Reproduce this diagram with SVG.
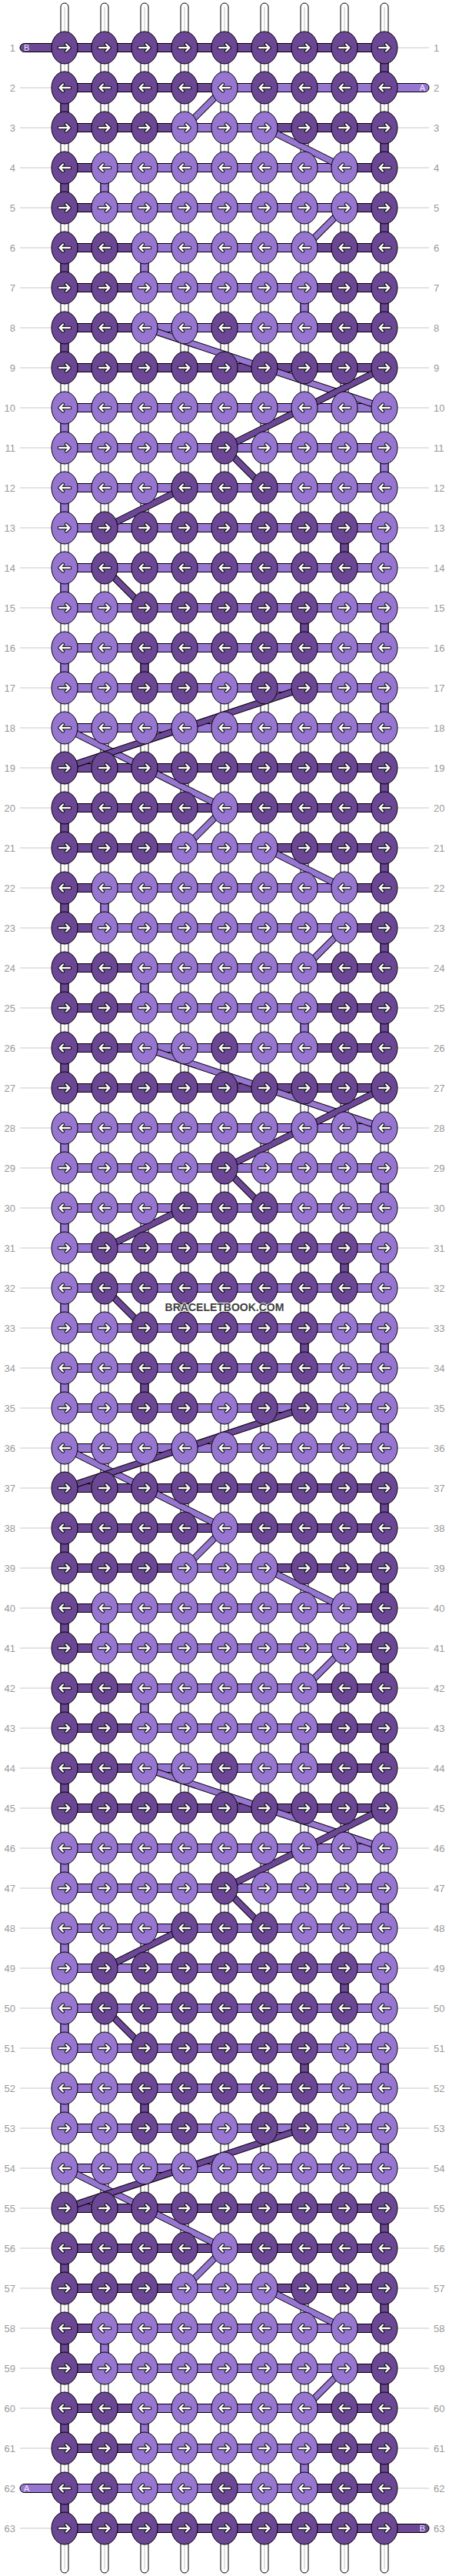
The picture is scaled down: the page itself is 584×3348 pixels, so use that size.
<svg xmlns="http://www.w3.org/2000/svg" width="584" height="3348" viewBox="0 0 584 3348">
<style>
.d{fill:#6b4795;stroke:#000;stroke-width:1}
.l{fill:#9776d1;stroke:#000;stroke-width:1}
.ao{fill:none;stroke:#000;stroke-width:4.4;stroke-linecap:round;stroke-linejoin:round}
.ai{fill:none;stroke:#fff;stroke-width:2.4;stroke-linecap:round;stroke-linejoin:round}
.s{fill:#fff;stroke:#000;stroke-width:1}
.sc{fill:none;stroke:#c4c4c4;stroke-width:1}
.o{fill:none;stroke:#000;stroke-width:9}
.cd{fill:none;stroke:#6b4795;stroke-width:7}
.cl{fill:none;stroke:#9776d1;stroke-width:7}
.ln{fill:none;stroke:#c8c8c8;stroke-width:1}
text{font-family:"Liberation Sans",Arial,sans-serif}
.nl{font-size:13px;fill:#999;text-anchor:end}
.nr{font-size:13px;fill:#999}
.pt{font-size:11px;fill:#f2ecff}
.wm{font-size:14px;font-weight:bold;fill:#404040;text-anchor:middle;stroke:#fff;stroke-width:1.5;paint-order:stroke}
</style>
<defs>
<g id="ar"><path class="ao" d="M-7,0H6.5M2,-4.5L6.5,0L2,4.5"/><path class="ai" d="M-7,0H6.5M2,-4.5L6.5,0L2,4.5"/></g>
<use id="al" href="#ar" transform="scale(-1,1)"/>
<g id="Dr"><ellipse rx="17" ry="21" class="d"/><use href="#ar"/></g>
<g id="Dl"><ellipse rx="17" ry="21" class="d"/><use href="#al"/></g>
<g id="Lr"><ellipse rx="17" ry="21" class="l"/><use href="#ar"/></g>
<g id="Ll"><ellipse rx="17" ry="21" class="l"/><use href="#al"/></g>
<rect id="bD" class="d" y="-5.5" width="52" height="11"/>
<rect id="bL" class="l" y="-5.5" width="52" height="11"/>
<rect id="vD" class="d" x="-5" width="10" height="52"/>
<rect id="vL" class="l" x="-5" width="10" height="52"/>
<path id="LB" class="ln" d="M26,0H67M517,0H558"/>
<path id="LR" class="ln" d="M517,0H558"/>
<path id="LF" class="ln" d="M26,0H67"/>
<g id="RD"><use href="#bD" x="84"/><use href="#bD" x="136"/><use href="#bD" x="188"/><use href="#bD" x="240"/><use href="#bD" x="292"/><use href="#bD" x="344"/><use href="#bD" x="396"/><use href="#bD" x="448"/></g>
<g id="RL"><use href="#bL" x="84"/><use href="#bL" x="136"/><use href="#bL" x="188"/><use href="#bL" x="240"/><use href="#bL" x="292"/><use href="#bL" x="344"/><use href="#bL" x="396"/><use href="#bL" x="448"/></g>
<g id="R0"><use href="#bD" x="84"/><use href="#bD" x="136"/><use href="#bL" x="188"/><use href="#bL" x="240"/><use href="#bL" x="292"/><use href="#bL" x="344"/><use href="#bD" x="396"/><use href="#bD" x="448"/></g>
<g id="R14"><use href="#bD" x="84"/><use href="#bD" x="136"/><use href="#bD" x="188"/><use href="#bL" x="240"/><use href="#bL" x="292"/><use href="#bD" x="344"/><use href="#bD" x="396"/><use href="#bD" x="448"/></g>
<g id="R15"><use href="#bD" x="84"/><use href="#bL" x="136"/><use href="#bL" x="188"/><use href="#bL" x="240"/><use href="#bL" x="292"/><use href="#bL" x="344"/><use href="#bL" x="396"/><use href="#bD" x="448"/></g>
<g id="B1">
<use href="#R0"/><use href="#R0" y="52"/><use href="#RD" y="104"/><use href="#RL" y="156"/><use href="#RL" y="208"/><use href="#RL" y="260"/><use href="#RL" y="312"/><use href="#RL" y="364"/><use href="#RL" y="416"/><use href="#RL" y="468"/><use href="#RL" y="520"/><use href="#RL" y="572"/>
<use href="#vL" x="396"/><use href="#vD" x="500"/>
<use href="#vD" x="84" y="52"/>
<use href="#vL" x="84" y="156"/>
<use href="#vL" x="500" y="208"/>
<use href="#vL" x="84" y="260"/>
<use href="#vD" x="448" y="312"/><use href="#vL" x="500" y="312"/>
<use href="#vL" x="84" y="364"/>
<use href="#vD" x="396" y="416"/><use href="#vL" x="500" y="416"/>
<use href="#vL" x="84" y="468"/><use href="#vD" x="188" y="468"/>
<use href="#vL" x="500" y="520"/>
</g>
<g id="B2">
<use href="#RD"/><use href="#RD" y="52"/><use href="#R14" y="104"/><use href="#R15" y="156"/><use href="#R15" y="208"/><use href="#R0" y="260"/>
<use href="#vD" x="500"/>
<use href="#vD" x="84" y="52"/>
<use href="#vD" x="500" y="104"/>
<use href="#vD" x="84" y="156"/><use href="#vL" x="136" y="156"/>
<use href="#vD" x="500" y="208"/>
<use href="#vD" x="84" y="260"/><use href="#vL" x="188" y="260"/>
</g>
<g id="G1">
<path class="o" d="M188,52L500,156"/><path class="cl" d="M188,52L500,156"/>
<path class="o" d="M292,208L500,104"/><path class="cd" d="M292,208L500,104"/>
<path class="o" d="M292,208L344,260"/><path class="cd" d="M292,208L344,260"/>
<path class="o" d="M240,260L136,312"/><path class="cd" d="M240,260L136,312"/>
<path class="o" d="M136,364L188,416"/><path class="cd" d="M136,364L188,416"/>
<path class="o" d="M84,572L292,676"/><path class="cl" d="M84,572L292,676"/>
<path class="o" d="M396,520L84,624"/><path class="cd" d="M396,520L84,624"/>
</g>
<g id="G2">
<path class="o" d="M292,52L240,104"/><path class="cl" d="M292,52L240,104"/>
<path class="o" d="M344,104L448,156"/><path class="cl" d="M344,104L448,156"/>
<path class="o" d="M448,208L396,260"/><path class="cl" d="M448,208L396,260"/>
</g>
</defs>
<rect width="584" height="3348" fill="#fff"/>
<g id="connectors">
<g id="strands">
<rect class="s" x="79" y="4" width="10" height="3340" rx="5"/><rect class="s" x="131" y="4" width="10" height="3340" rx="5"/><rect class="s" x="183" y="4" width="10" height="3340" rx="5"/><rect class="s" x="235" y="4" width="10" height="3340" rx="5"/><rect class="s" x="287" y="4" width="10" height="3340" rx="5"/><rect class="s" x="339" y="4" width="10" height="3340" rx="5"/><rect class="s" x="391" y="4" width="10" height="3340" rx="5"/><rect class="s" x="443" y="4" width="10" height="3340" rx="5"/><rect class="s" x="495" y="4" width="10" height="3340" rx="5"/>
<path class="sc" d="M84,9V3339M136,9V3339M188,9V3339M240,9V3339M292,9V3339M344,9V3339M396,9V3339M448,9V3339M500,9V3339"/>
</g>
<use href="#B2" y="62"/>
<g transform="translate(0,114)"><use href="#bL" x="292"/><use href="#bL" x="344"/><use href="#bL" x="396"/><use href="#bL" x="448"/></g>
<use href="#B1" y="374"/>
<use href="#B2" y="998"/>
<use href="#B1" y="1310"/>
<use href="#B2" y="1934"/>
<use href="#B1" y="2246"/>
<use href="#B2" y="2870"/>
<use href="#R0" y="3182"/>
<g transform="translate(0,3234)"><use href="#bL" x="84"/><use href="#bL" x="136"/><use href="#bL" x="188"/><use href="#bL" x="240"/><use href="#bL" x="292"/><use href="#bL" x="344"/><use href="#bD" x="396"/><use href="#bD" x="448"/></g>
<use href="#RD" y="3286"/>
<use href="#vL" x="396" y="3182"/><use href="#vD" x="500" y="3182"/><use href="#vD" x="84" y="3234"/>
<rect class="d" x="26" y="56.5" width="60" height="11" rx="5.5"/>
<rect class="l" x="498" y="108.5" width="60" height="11" rx="5.5"/>
<rect class="l" x="26" y="3228.5" width="60" height="11" rx="5.5"/>
<rect class="d" x="498" y="3280.5" width="60" height="11" rx="5.5"/>
<use href="#G2" y="62"/>
<use href="#G1" y="374"/>
<use href="#G2" y="998"/>
<use href="#G1" y="1310"/>
<use href="#G2" y="1934"/>
<use href="#G1" y="2246"/>
<use href="#G2" y="2870"/>
</g>
<g id="nodes">
<g id="r1" transform="translate(0,62)"><use href="#LR"/><text class="nl" x="20" y="4.5">1</text><text class="nr" x="564" y="4.5">1</text><text class="pt" x="31" y="4">B</text><g id="n1-1"><use href="#Dr" x="84"/></g><g id="n1-2"><use href="#Dr" x="136"/></g><g id="n1-3"><use href="#Dr" x="188"/></g><g id="n1-4"><use href="#Dr" x="240"/></g><g id="n1-5"><use href="#Dr" x="292"/></g><g id="n1-6"><use href="#Dr" x="344"/></g><g id="n1-7"><use href="#Dr" x="396"/></g><g id="n1-8"><use href="#Dr" x="448"/></g><g id="n1-9"><use href="#Dr" x="500"/></g></g>
<g id="r2" transform="translate(0,114)"><use href="#LF"/><text class="nl" x="20" y="4.5">2</text><text class="nr" x="564" y="4.5">2</text><text class="pt" x="553" y="4" text-anchor="end">A</text><g id="n2-1"><use href="#Dl" x="84"/></g><g id="n2-2"><use href="#Dl" x="136"/></g><g id="n2-3"><use href="#Dl" x="188"/></g><g id="n2-4"><use href="#Dl" x="240"/></g><g id="n2-5"><use href="#Ll" x="292"/></g><g id="n2-6"><use href="#Dl" x="344"/></g><g id="n2-7"><use href="#Dl" x="396"/></g><g id="n2-8"><use href="#Dl" x="448"/></g><g id="n2-9"><use href="#Dl" x="500"/></g></g>
<g id="r3" transform="translate(0,166)"><use href="#LB"/><text class="nl" x="20" y="4.5">3</text><text class="nr" x="564" y="4.5">3</text><g id="n3-1"><use href="#Dr" x="84"/></g><g id="n3-2"><use href="#Dr" x="136"/></g><g id="n3-3"><use href="#Dr" x="188"/></g><g id="n3-4"><use href="#Lr" x="240"/></g><g id="n3-5"><use href="#Lr" x="292"/></g><g id="n3-6"><use href="#Lr" x="344"/></g><g id="n3-7"><use href="#Dr" x="396"/></g><g id="n3-8"><use href="#Dr" x="448"/></g><g id="n3-9"><use href="#Dr" x="500"/></g></g>
<g id="r4" transform="translate(0,218)"><use href="#LB"/><text class="nl" x="20" y="4.5">4</text><text class="nr" x="564" y="4.5">4</text><g id="n4-1"><use href="#Dl" x="84"/></g><g id="n4-2"><use href="#Ll" x="136"/></g><g id="n4-3"><use href="#Ll" x="188"/></g><g id="n4-4"><use href="#Ll" x="240"/></g><g id="n4-5"><use href="#Ll" x="292"/></g><g id="n4-6"><use href="#Ll" x="344"/></g><g id="n4-7"><use href="#Ll" x="396"/></g><g id="n4-8"><use href="#Ll" x="448"/></g><g id="n4-9"><use href="#Dl" x="500"/></g></g>
<g id="r5" transform="translate(0,270)"><use href="#LB"/><text class="nl" x="20" y="4.5">5</text><text class="nr" x="564" y="4.5">5</text><g id="n5-1"><use href="#Dr" x="84"/></g><g id="n5-2"><use href="#Lr" x="136"/></g><g id="n5-3"><use href="#Lr" x="188"/></g><g id="n5-4"><use href="#Lr" x="240"/></g><g id="n5-5"><use href="#Lr" x="292"/></g><g id="n5-6"><use href="#Lr" x="344"/></g><g id="n5-7"><use href="#Lr" x="396"/></g><g id="n5-8"><use href="#Lr" x="448"/></g><g id="n5-9"><use href="#Dr" x="500"/></g></g>
<g id="r6" transform="translate(0,322)"><use href="#LB"/><text class="nl" x="20" y="4.5">6</text><text class="nr" x="564" y="4.5">6</text><g id="n6-1"><use href="#Dl" x="84"/></g><g id="n6-2"><use href="#Dl" x="136"/></g><g id="n6-3"><use href="#Ll" x="188"/></g><g id="n6-4"><use href="#Ll" x="240"/></g><g id="n6-5"><use href="#Ll" x="292"/></g><g id="n6-6"><use href="#Ll" x="344"/></g><g id="n6-7"><use href="#Ll" x="396"/></g><g id="n6-8"><use href="#Dl" x="448"/></g><g id="n6-9"><use href="#Dl" x="500"/></g></g>
<g id="r7" transform="translate(0,374)"><use href="#LB"/><text class="nl" x="20" y="4.5">7</text><text class="nr" x="564" y="4.5">7</text><g id="n7-1"><use href="#Dr" x="84"/></g><g id="n7-2"><use href="#Dr" x="136"/></g><g id="n7-3"><use href="#Lr" x="188"/></g><g id="n7-4"><use href="#Lr" x="240"/></g><g id="n7-5"><use href="#Lr" x="292"/></g><g id="n7-6"><use href="#Lr" x="344"/></g><g id="n7-7"><use href="#Lr" x="396"/></g><g id="n7-8"><use href="#Dr" x="448"/></g><g id="n7-9"><use href="#Dr" x="500"/></g></g>
<g id="r8" transform="translate(0,426)"><use href="#LB"/><text class="nl" x="20" y="4.5">8</text><text class="nr" x="564" y="4.5">8</text><g id="n8-1"><use href="#Dl" x="84"/></g><g id="n8-2"><use href="#Dl" x="136"/></g><g id="n8-3"><use href="#Ll" x="188"/></g><g id="n8-4"><use href="#Ll" x="240"/></g><g id="n8-5"><use href="#Dl" x="292"/></g><g id="n8-6"><use href="#Ll" x="344"/></g><g id="n8-7"><use href="#Ll" x="396"/></g><g id="n8-8"><use href="#Dl" x="448"/></g><g id="n8-9"><use href="#Dl" x="500"/></g></g>
<g id="r9" transform="translate(0,478)"><use href="#LB"/><text class="nl" x="20" y="4.5">9</text><text class="nr" x="564" y="4.5">9</text><g id="n9-1"><use href="#Dr" x="84"/></g><g id="n9-2"><use href="#Dr" x="136"/></g><g id="n9-3"><use href="#Dr" x="188"/></g><g id="n9-4"><use href="#Dr" x="240"/></g><g id="n9-5"><use href="#Dr" x="292"/></g><g id="n9-6"><use href="#Dr" x="344"/></g><g id="n9-7"><use href="#Dr" x="396"/></g><g id="n9-8"><use href="#Dr" x="448"/></g><g id="n9-9"><use href="#Dr" x="500"/></g></g>
<g id="r10" transform="translate(0,530)"><use href="#LB"/><text class="nl" x="20" y="4.5">10</text><text class="nr" x="564" y="4.5">10</text><g id="n10-1"><use href="#Ll" x="84"/></g><g id="n10-2"><use href="#Ll" x="136"/></g><g id="n10-3"><use href="#Ll" x="188"/></g><g id="n10-4"><use href="#Ll" x="240"/></g><g id="n10-5"><use href="#Ll" x="292"/></g><g id="n10-6"><use href="#Ll" x="344"/></g><g id="n10-7"><use href="#Ll" x="396"/></g><g id="n10-8"><use href="#Ll" x="448"/></g><g id="n10-9"><use href="#Ll" x="500"/></g></g>
<g id="r11" transform="translate(0,582)"><use href="#LB"/><text class="nl" x="20" y="4.5">11</text><text class="nr" x="564" y="4.5">11</text><g id="n11-1"><use href="#Lr" x="84"/></g><g id="n11-2"><use href="#Lr" x="136"/></g><g id="n11-3"><use href="#Lr" x="188"/></g><g id="n11-4"><use href="#Lr" x="240"/></g><g id="n11-5"><use href="#Dr" x="292"/></g><g id="n11-6"><use href="#Lr" x="344"/></g><g id="n11-7"><use href="#Lr" x="396"/></g><g id="n11-8"><use href="#Lr" x="448"/></g><g id="n11-9"><use href="#Lr" x="500"/></g></g>
<g id="r12" transform="translate(0,634)"><use href="#LB"/><text class="nl" x="20" y="4.5">12</text><text class="nr" x="564" y="4.5">12</text><g id="n12-1"><use href="#Ll" x="84"/></g><g id="n12-2"><use href="#Ll" x="136"/></g><g id="n12-3"><use href="#Ll" x="188"/></g><g id="n12-4"><use href="#Dl" x="240"/></g><g id="n12-5"><use href="#Dl" x="292"/></g><g id="n12-6"><use href="#Dl" x="344"/></g><g id="n12-7"><use href="#Ll" x="396"/></g><g id="n12-8"><use href="#Ll" x="448"/></g><g id="n12-9"><use href="#Ll" x="500"/></g></g>
<g id="r13" transform="translate(0,686)"><use href="#LB"/><text class="nl" x="20" y="4.5">13</text><text class="nr" x="564" y="4.5">13</text><g id="n13-1"><use href="#Lr" x="84"/></g><g id="n13-2"><use href="#Dr" x="136"/></g><g id="n13-3"><use href="#Dr" x="188"/></g><g id="n13-4"><use href="#Dr" x="240"/></g><g id="n13-5"><use href="#Dr" x="292"/></g><g id="n13-6"><use href="#Dr" x="344"/></g><g id="n13-7"><use href="#Dr" x="396"/></g><g id="n13-8"><use href="#Dr" x="448"/></g><g id="n13-9"><use href="#Lr" x="500"/></g></g>
<g id="r14" transform="translate(0,738)"><use href="#LB"/><text class="nl" x="20" y="4.5">14</text><text class="nr" x="564" y="4.5">14</text><g id="n14-1"><use href="#Ll" x="84"/></g><g id="n14-2"><use href="#Dl" x="136"/></g><g id="n14-3"><use href="#Dl" x="188"/></g><g id="n14-4"><use href="#Dl" x="240"/></g><g id="n14-5"><use href="#Dl" x="292"/></g><g id="n14-6"><use href="#Dl" x="344"/></g><g id="n14-7"><use href="#Dl" x="396"/></g><g id="n14-8"><use href="#Dl" x="448"/></g><g id="n14-9"><use href="#Ll" x="500"/></g></g>
<g id="r15" transform="translate(0,790)"><use href="#LB"/><text class="nl" x="20" y="4.5">15</text><text class="nr" x="564" y="4.5">15</text><g id="n15-1"><use href="#Lr" x="84"/></g><g id="n15-2"><use href="#Lr" x="136"/></g><g id="n15-3"><use href="#Dr" x="188"/></g><g id="n15-4"><use href="#Dr" x="240"/></g><g id="n15-5"><use href="#Dr" x="292"/></g><g id="n15-6"><use href="#Dr" x="344"/></g><g id="n15-7"><use href="#Dr" x="396"/></g><g id="n15-8"><use href="#Lr" x="448"/></g><g id="n15-9"><use href="#Lr" x="500"/></g></g>
<g id="r16" transform="translate(0,842)"><use href="#LB"/><text class="nl" x="20" y="4.5">16</text><text class="nr" x="564" y="4.5">16</text><g id="n16-1"><use href="#Ll" x="84"/></g><g id="n16-2"><use href="#Ll" x="136"/></g><g id="n16-3"><use href="#Dl" x="188"/></g><g id="n16-4"><use href="#Dl" x="240"/></g><g id="n16-5"><use href="#Dl" x="292"/></g><g id="n16-6"><use href="#Dl" x="344"/></g><g id="n16-7"><use href="#Dl" x="396"/></g><g id="n16-8"><use href="#Ll" x="448"/></g><g id="n16-9"><use href="#Ll" x="500"/></g></g>
<g id="r17" transform="translate(0,894)"><use href="#LB"/><text class="nl" x="20" y="4.5">17</text><text class="nr" x="564" y="4.5">17</text><g id="n17-1"><use href="#Lr" x="84"/></g><g id="n17-2"><use href="#Lr" x="136"/></g><g id="n17-3"><use href="#Dr" x="188"/></g><g id="n17-4"><use href="#Dr" x="240"/></g><g id="n17-5"><use href="#Lr" x="292"/></g><g id="n17-6"><use href="#Dr" x="344"/></g><g id="n17-7"><use href="#Dr" x="396"/></g><g id="n17-8"><use href="#Lr" x="448"/></g><g id="n17-9"><use href="#Lr" x="500"/></g></g>
<g id="r18" transform="translate(0,946)"><use href="#LB"/><text class="nl" x="20" y="4.5">18</text><text class="nr" x="564" y="4.5">18</text><g id="n18-1"><use href="#Ll" x="84"/></g><g id="n18-2"><use href="#Ll" x="136"/></g><g id="n18-3"><use href="#Ll" x="188"/></g><g id="n18-4"><use href="#Ll" x="240"/></g><g id="n18-5"><use href="#Ll" x="292"/></g><g id="n18-6"><use href="#Ll" x="344"/></g><g id="n18-7"><use href="#Ll" x="396"/></g><g id="n18-8"><use href="#Ll" x="448"/></g><g id="n18-9"><use href="#Ll" x="500"/></g></g>
<g id="r19" transform="translate(0,998)"><use href="#LB"/><text class="nl" x="20" y="4.5">19</text><text class="nr" x="564" y="4.5">19</text><g id="n19-1"><use href="#Dr" x="84"/></g><g id="n19-2"><use href="#Dr" x="136"/></g><g id="n19-3"><use href="#Dr" x="188"/></g><g id="n19-4"><use href="#Dr" x="240"/></g><g id="n19-5"><use href="#Dr" x="292"/></g><g id="n19-6"><use href="#Dr" x="344"/></g><g id="n19-7"><use href="#Dr" x="396"/></g><g id="n19-8"><use href="#Dr" x="448"/></g><g id="n19-9"><use href="#Dr" x="500"/></g></g>
<g id="r20" transform="translate(0,1050)"><use href="#LB"/><text class="nl" x="20" y="4.5">20</text><text class="nr" x="564" y="4.5">20</text><g id="n20-1"><use href="#Dl" x="84"/></g><g id="n20-2"><use href="#Dl" x="136"/></g><g id="n20-3"><use href="#Dl" x="188"/></g><g id="n20-4"><use href="#Dl" x="240"/></g><g id="n20-5"><use href="#Ll" x="292"/></g><g id="n20-6"><use href="#Dl" x="344"/></g><g id="n20-7"><use href="#Dl" x="396"/></g><g id="n20-8"><use href="#Dl" x="448"/></g><g id="n20-9"><use href="#Dl" x="500"/></g></g>
<g id="r21" transform="translate(0,1102)"><use href="#LB"/><text class="nl" x="20" y="4.5">21</text><text class="nr" x="564" y="4.5">21</text><g id="n21-1"><use href="#Dr" x="84"/></g><g id="n21-2"><use href="#Dr" x="136"/></g><g id="n21-3"><use href="#Dr" x="188"/></g><g id="n21-4"><use href="#Lr" x="240"/></g><g id="n21-5"><use href="#Lr" x="292"/></g><g id="n21-6"><use href="#Lr" x="344"/></g><g id="n21-7"><use href="#Dr" x="396"/></g><g id="n21-8"><use href="#Dr" x="448"/></g><g id="n21-9"><use href="#Dr" x="500"/></g></g>
<g id="r22" transform="translate(0,1154)"><use href="#LB"/><text class="nl" x="20" y="4.5">22</text><text class="nr" x="564" y="4.5">22</text><g id="n22-1"><use href="#Dl" x="84"/></g><g id="n22-2"><use href="#Ll" x="136"/></g><g id="n22-3"><use href="#Ll" x="188"/></g><g id="n22-4"><use href="#Ll" x="240"/></g><g id="n22-5"><use href="#Ll" x="292"/></g><g id="n22-6"><use href="#Ll" x="344"/></g><g id="n22-7"><use href="#Ll" x="396"/></g><g id="n22-8"><use href="#Ll" x="448"/></g><g id="n22-9"><use href="#Dl" x="500"/></g></g>
<g id="r23" transform="translate(0,1206)"><use href="#LB"/><text class="nl" x="20" y="4.5">23</text><text class="nr" x="564" y="4.5">23</text><g id="n23-1"><use href="#Dr" x="84"/></g><g id="n23-2"><use href="#Lr" x="136"/></g><g id="n23-3"><use href="#Lr" x="188"/></g><g id="n23-4"><use href="#Lr" x="240"/></g><g id="n23-5"><use href="#Lr" x="292"/></g><g id="n23-6"><use href="#Lr" x="344"/></g><g id="n23-7"><use href="#Lr" x="396"/></g><g id="n23-8"><use href="#Lr" x="448"/></g><g id="n23-9"><use href="#Dr" x="500"/></g></g>
<g id="r24" transform="translate(0,1258)"><use href="#LB"/><text class="nl" x="20" y="4.5">24</text><text class="nr" x="564" y="4.5">24</text><g id="n24-1"><use href="#Dl" x="84"/></g><g id="n24-2"><use href="#Dl" x="136"/></g><g id="n24-3"><use href="#Ll" x="188"/></g><g id="n24-4"><use href="#Ll" x="240"/></g><g id="n24-5"><use href="#Ll" x="292"/></g><g id="n24-6"><use href="#Ll" x="344"/></g><g id="n24-7"><use href="#Ll" x="396"/></g><g id="n24-8"><use href="#Dl" x="448"/></g><g id="n24-9"><use href="#Dl" x="500"/></g></g>
<g id="r25" transform="translate(0,1310)"><use href="#LB"/><text class="nl" x="20" y="4.5">25</text><text class="nr" x="564" y="4.5">25</text><g id="n25-1"><use href="#Dr" x="84"/></g><g id="n25-2"><use href="#Dr" x="136"/></g><g id="n25-3"><use href="#Lr" x="188"/></g><g id="n25-4"><use href="#Lr" x="240"/></g><g id="n25-5"><use href="#Lr" x="292"/></g><g id="n25-6"><use href="#Lr" x="344"/></g><g id="n25-7"><use href="#Lr" x="396"/></g><g id="n25-8"><use href="#Dr" x="448"/></g><g id="n25-9"><use href="#Dr" x="500"/></g></g>
<g id="r26" transform="translate(0,1362)"><use href="#LB"/><text class="nl" x="20" y="4.5">26</text><text class="nr" x="564" y="4.5">26</text><g id="n26-1"><use href="#Dl" x="84"/></g><g id="n26-2"><use href="#Dl" x="136"/></g><g id="n26-3"><use href="#Ll" x="188"/></g><g id="n26-4"><use href="#Ll" x="240"/></g><g id="n26-5"><use href="#Dl" x="292"/></g><g id="n26-6"><use href="#Ll" x="344"/></g><g id="n26-7"><use href="#Ll" x="396"/></g><g id="n26-8"><use href="#Dl" x="448"/></g><g id="n26-9"><use href="#Dl" x="500"/></g></g>
<g id="r27" transform="translate(0,1414)"><use href="#LB"/><text class="nl" x="20" y="4.5">27</text><text class="nr" x="564" y="4.5">27</text><g id="n27-1"><use href="#Dr" x="84"/></g><g id="n27-2"><use href="#Dr" x="136"/></g><g id="n27-3"><use href="#Dr" x="188"/></g><g id="n27-4"><use href="#Dr" x="240"/></g><g id="n27-5"><use href="#Dr" x="292"/></g><g id="n27-6"><use href="#Dr" x="344"/></g><g id="n27-7"><use href="#Dr" x="396"/></g><g id="n27-8"><use href="#Dr" x="448"/></g><g id="n27-9"><use href="#Dr" x="500"/></g></g>
<g id="r28" transform="translate(0,1466)"><use href="#LB"/><text class="nl" x="20" y="4.5">28</text><text class="nr" x="564" y="4.5">28</text><g id="n28-1"><use href="#Ll" x="84"/></g><g id="n28-2"><use href="#Ll" x="136"/></g><g id="n28-3"><use href="#Ll" x="188"/></g><g id="n28-4"><use href="#Ll" x="240"/></g><g id="n28-5"><use href="#Ll" x="292"/></g><g id="n28-6"><use href="#Ll" x="344"/></g><g id="n28-7"><use href="#Ll" x="396"/></g><g id="n28-8"><use href="#Ll" x="448"/></g><g id="n28-9"><use href="#Ll" x="500"/></g></g>
<g id="r29" transform="translate(0,1518)"><use href="#LB"/><text class="nl" x="20" y="4.5">29</text><text class="nr" x="564" y="4.5">29</text><g id="n29-1"><use href="#Lr" x="84"/></g><g id="n29-2"><use href="#Lr" x="136"/></g><g id="n29-3"><use href="#Lr" x="188"/></g><g id="n29-4"><use href="#Lr" x="240"/></g><g id="n29-5"><use href="#Dr" x="292"/></g><g id="n29-6"><use href="#Lr" x="344"/></g><g id="n29-7"><use href="#Lr" x="396"/></g><g id="n29-8"><use href="#Lr" x="448"/></g><g id="n29-9"><use href="#Lr" x="500"/></g></g>
<g id="r30" transform="translate(0,1570)"><use href="#LB"/><text class="nl" x="20" y="4.5">30</text><text class="nr" x="564" y="4.5">30</text><g id="n30-1"><use href="#Ll" x="84"/></g><g id="n30-2"><use href="#Ll" x="136"/></g><g id="n30-3"><use href="#Ll" x="188"/></g><g id="n30-4"><use href="#Dl" x="240"/></g><g id="n30-5"><use href="#Dl" x="292"/></g><g id="n30-6"><use href="#Dl" x="344"/></g><g id="n30-7"><use href="#Ll" x="396"/></g><g id="n30-8"><use href="#Ll" x="448"/></g><g id="n30-9"><use href="#Ll" x="500"/></g></g>
<g id="r31" transform="translate(0,1622)"><use href="#LB"/><text class="nl" x="20" y="4.5">31</text><text class="nr" x="564" y="4.5">31</text><g id="n31-1"><use href="#Lr" x="84"/></g><g id="n31-2"><use href="#Dr" x="136"/></g><g id="n31-3"><use href="#Dr" x="188"/></g><g id="n31-4"><use href="#Dr" x="240"/></g><g id="n31-5"><use href="#Dr" x="292"/></g><g id="n31-6"><use href="#Dr" x="344"/></g><g id="n31-7"><use href="#Dr" x="396"/></g><g id="n31-8"><use href="#Dr" x="448"/></g><g id="n31-9"><use href="#Lr" x="500"/></g></g>
<g id="r32" transform="translate(0,1674)"><use href="#LB"/><text class="nl" x="20" y="4.5">32</text><text class="nr" x="564" y="4.5">32</text><g id="n32-1"><use href="#Ll" x="84"/></g><g id="n32-2"><use href="#Dl" x="136"/></g><g id="n32-3"><use href="#Dl" x="188"/></g><g id="n32-4"><use href="#Dl" x="240"/></g><g id="n32-5"><use href="#Dl" x="292"/></g><g id="n32-6"><use href="#Dl" x="344"/></g><g id="n32-7"><use href="#Dl" x="396"/></g><g id="n32-8"><use href="#Dl" x="448"/></g><g id="n32-9"><use href="#Ll" x="500"/></g></g>
<g id="r33" transform="translate(0,1726)"><use href="#LB"/><text class="nl" x="20" y="4.5">33</text><text class="nr" x="564" y="4.5">33</text><g id="n33-1"><use href="#Lr" x="84"/></g><g id="n33-2"><use href="#Lr" x="136"/></g><g id="n33-3"><use href="#Dr" x="188"/></g><g id="n33-4"><use href="#Dr" x="240"/></g><g id="n33-5"><use href="#Dr" x="292"/></g><g id="n33-6"><use href="#Dr" x="344"/></g><g id="n33-7"><use href="#Dr" x="396"/></g><g id="n33-8"><use href="#Lr" x="448"/></g><g id="n33-9"><use href="#Lr" x="500"/></g></g>
<g id="r34" transform="translate(0,1778)"><use href="#LB"/><text class="nl" x="20" y="4.5">34</text><text class="nr" x="564" y="4.5">34</text><g id="n34-1"><use href="#Ll" x="84"/></g><g id="n34-2"><use href="#Ll" x="136"/></g><g id="n34-3"><use href="#Dl" x="188"/></g><g id="n34-4"><use href="#Dl" x="240"/></g><g id="n34-5"><use href="#Dl" x="292"/></g><g id="n34-6"><use href="#Dl" x="344"/></g><g id="n34-7"><use href="#Dl" x="396"/></g><g id="n34-8"><use href="#Ll" x="448"/></g><g id="n34-9"><use href="#Ll" x="500"/></g></g>
<g id="r35" transform="translate(0,1830)"><use href="#LB"/><text class="nl" x="20" y="4.5">35</text><text class="nr" x="564" y="4.5">35</text><g id="n35-1"><use href="#Lr" x="84"/></g><g id="n35-2"><use href="#Lr" x="136"/></g><g id="n35-3"><use href="#Dr" x="188"/></g><g id="n35-4"><use href="#Dr" x="240"/></g><g id="n35-5"><use href="#Lr" x="292"/></g><g id="n35-6"><use href="#Dr" x="344"/></g><g id="n35-7"><use href="#Dr" x="396"/></g><g id="n35-8"><use href="#Lr" x="448"/></g><g id="n35-9"><use href="#Lr" x="500"/></g></g>
<g id="r36" transform="translate(0,1882)"><use href="#LB"/><text class="nl" x="20" y="4.5">36</text><text class="nr" x="564" y="4.5">36</text><g id="n36-1"><use href="#Ll" x="84"/></g><g id="n36-2"><use href="#Ll" x="136"/></g><g id="n36-3"><use href="#Ll" x="188"/></g><g id="n36-4"><use href="#Ll" x="240"/></g><g id="n36-5"><use href="#Ll" x="292"/></g><g id="n36-6"><use href="#Ll" x="344"/></g><g id="n36-7"><use href="#Ll" x="396"/></g><g id="n36-8"><use href="#Ll" x="448"/></g><g id="n36-9"><use href="#Ll" x="500"/></g></g>
<g id="r37" transform="translate(0,1934)"><use href="#LB"/><text class="nl" x="20" y="4.5">37</text><text class="nr" x="564" y="4.5">37</text><g id="n37-1"><use href="#Dr" x="84"/></g><g id="n37-2"><use href="#Dr" x="136"/></g><g id="n37-3"><use href="#Dr" x="188"/></g><g id="n37-4"><use href="#Dr" x="240"/></g><g id="n37-5"><use href="#Dr" x="292"/></g><g id="n37-6"><use href="#Dr" x="344"/></g><g id="n37-7"><use href="#Dr" x="396"/></g><g id="n37-8"><use href="#Dr" x="448"/></g><g id="n37-9"><use href="#Dr" x="500"/></g></g>
<g id="r38" transform="translate(0,1986)"><use href="#LB"/><text class="nl" x="20" y="4.5">38</text><text class="nr" x="564" y="4.5">38</text><g id="n38-1"><use href="#Dl" x="84"/></g><g id="n38-2"><use href="#Dl" x="136"/></g><g id="n38-3"><use href="#Dl" x="188"/></g><g id="n38-4"><use href="#Dl" x="240"/></g><g id="n38-5"><use href="#Ll" x="292"/></g><g id="n38-6"><use href="#Dl" x="344"/></g><g id="n38-7"><use href="#Dl" x="396"/></g><g id="n38-8"><use href="#Dl" x="448"/></g><g id="n38-9"><use href="#Dl" x="500"/></g></g>
<g id="r39" transform="translate(0,2038)"><use href="#LB"/><text class="nl" x="20" y="4.5">39</text><text class="nr" x="564" y="4.5">39</text><g id="n39-1"><use href="#Dr" x="84"/></g><g id="n39-2"><use href="#Dr" x="136"/></g><g id="n39-3"><use href="#Dr" x="188"/></g><g id="n39-4"><use href="#Lr" x="240"/></g><g id="n39-5"><use href="#Lr" x="292"/></g><g id="n39-6"><use href="#Lr" x="344"/></g><g id="n39-7"><use href="#Dr" x="396"/></g><g id="n39-8"><use href="#Dr" x="448"/></g><g id="n39-9"><use href="#Dr" x="500"/></g></g>
<g id="r40" transform="translate(0,2090)"><use href="#LB"/><text class="nl" x="20" y="4.5">40</text><text class="nr" x="564" y="4.5">40</text><g id="n40-1"><use href="#Dl" x="84"/></g><g id="n40-2"><use href="#Ll" x="136"/></g><g id="n40-3"><use href="#Ll" x="188"/></g><g id="n40-4"><use href="#Ll" x="240"/></g><g id="n40-5"><use href="#Ll" x="292"/></g><g id="n40-6"><use href="#Ll" x="344"/></g><g id="n40-7"><use href="#Ll" x="396"/></g><g id="n40-8"><use href="#Ll" x="448"/></g><g id="n40-9"><use href="#Dl" x="500"/></g></g>
<g id="r41" transform="translate(0,2142)"><use href="#LB"/><text class="nl" x="20" y="4.5">41</text><text class="nr" x="564" y="4.5">41</text><g id="n41-1"><use href="#Dr" x="84"/></g><g id="n41-2"><use href="#Lr" x="136"/></g><g id="n41-3"><use href="#Lr" x="188"/></g><g id="n41-4"><use href="#Lr" x="240"/></g><g id="n41-5"><use href="#Lr" x="292"/></g><g id="n41-6"><use href="#Lr" x="344"/></g><g id="n41-7"><use href="#Lr" x="396"/></g><g id="n41-8"><use href="#Lr" x="448"/></g><g id="n41-9"><use href="#Dr" x="500"/></g></g>
<g id="r42" transform="translate(0,2194)"><use href="#LB"/><text class="nl" x="20" y="4.5">42</text><text class="nr" x="564" y="4.5">42</text><g id="n42-1"><use href="#Dl" x="84"/></g><g id="n42-2"><use href="#Dl" x="136"/></g><g id="n42-3"><use href="#Ll" x="188"/></g><g id="n42-4"><use href="#Ll" x="240"/></g><g id="n42-5"><use href="#Ll" x="292"/></g><g id="n42-6"><use href="#Ll" x="344"/></g><g id="n42-7"><use href="#Ll" x="396"/></g><g id="n42-8"><use href="#Dl" x="448"/></g><g id="n42-9"><use href="#Dl" x="500"/></g></g>
<g id="r43" transform="translate(0,2246)"><use href="#LB"/><text class="nl" x="20" y="4.5">43</text><text class="nr" x="564" y="4.5">43</text><g id="n43-1"><use href="#Dr" x="84"/></g><g id="n43-2"><use href="#Dr" x="136"/></g><g id="n43-3"><use href="#Lr" x="188"/></g><g id="n43-4"><use href="#Lr" x="240"/></g><g id="n43-5"><use href="#Lr" x="292"/></g><g id="n43-6"><use href="#Lr" x="344"/></g><g id="n43-7"><use href="#Lr" x="396"/></g><g id="n43-8"><use href="#Dr" x="448"/></g><g id="n43-9"><use href="#Dr" x="500"/></g></g>
<g id="r44" transform="translate(0,2298)"><use href="#LB"/><text class="nl" x="20" y="4.5">44</text><text class="nr" x="564" y="4.5">44</text><g id="n44-1"><use href="#Dl" x="84"/></g><g id="n44-2"><use href="#Dl" x="136"/></g><g id="n44-3"><use href="#Ll" x="188"/></g><g id="n44-4"><use href="#Ll" x="240"/></g><g id="n44-5"><use href="#Dl" x="292"/></g><g id="n44-6"><use href="#Ll" x="344"/></g><g id="n44-7"><use href="#Ll" x="396"/></g><g id="n44-8"><use href="#Dl" x="448"/></g><g id="n44-9"><use href="#Dl" x="500"/></g></g>
<g id="r45" transform="translate(0,2350)"><use href="#LB"/><text class="nl" x="20" y="4.5">45</text><text class="nr" x="564" y="4.5">45</text><g id="n45-1"><use href="#Dr" x="84"/></g><g id="n45-2"><use href="#Dr" x="136"/></g><g id="n45-3"><use href="#Dr" x="188"/></g><g id="n45-4"><use href="#Dr" x="240"/></g><g id="n45-5"><use href="#Dr" x="292"/></g><g id="n45-6"><use href="#Dr" x="344"/></g><g id="n45-7"><use href="#Dr" x="396"/></g><g id="n45-8"><use href="#Dr" x="448"/></g><g id="n45-9"><use href="#Dr" x="500"/></g></g>
<g id="r46" transform="translate(0,2402)"><use href="#LB"/><text class="nl" x="20" y="4.5">46</text><text class="nr" x="564" y="4.5">46</text><g id="n46-1"><use href="#Ll" x="84"/></g><g id="n46-2"><use href="#Ll" x="136"/></g><g id="n46-3"><use href="#Ll" x="188"/></g><g id="n46-4"><use href="#Ll" x="240"/></g><g id="n46-5"><use href="#Ll" x="292"/></g><g id="n46-6"><use href="#Ll" x="344"/></g><g id="n46-7"><use href="#Ll" x="396"/></g><g id="n46-8"><use href="#Ll" x="448"/></g><g id="n46-9"><use href="#Ll" x="500"/></g></g>
<g id="r47" transform="translate(0,2454)"><use href="#LB"/><text class="nl" x="20" y="4.5">47</text><text class="nr" x="564" y="4.5">47</text><g id="n47-1"><use href="#Lr" x="84"/></g><g id="n47-2"><use href="#Lr" x="136"/></g><g id="n47-3"><use href="#Lr" x="188"/></g><g id="n47-4"><use href="#Lr" x="240"/></g><g id="n47-5"><use href="#Dr" x="292"/></g><g id="n47-6"><use href="#Lr" x="344"/></g><g id="n47-7"><use href="#Lr" x="396"/></g><g id="n47-8"><use href="#Lr" x="448"/></g><g id="n47-9"><use href="#Lr" x="500"/></g></g>
<g id="r48" transform="translate(0,2506)"><use href="#LB"/><text class="nl" x="20" y="4.5">48</text><text class="nr" x="564" y="4.5">48</text><g id="n48-1"><use href="#Ll" x="84"/></g><g id="n48-2"><use href="#Ll" x="136"/></g><g id="n48-3"><use href="#Ll" x="188"/></g><g id="n48-4"><use href="#Dl" x="240"/></g><g id="n48-5"><use href="#Dl" x="292"/></g><g id="n48-6"><use href="#Dl" x="344"/></g><g id="n48-7"><use href="#Ll" x="396"/></g><g id="n48-8"><use href="#Ll" x="448"/></g><g id="n48-9"><use href="#Ll" x="500"/></g></g>
<g id="r49" transform="translate(0,2558)"><use href="#LB"/><text class="nl" x="20" y="4.5">49</text><text class="nr" x="564" y="4.5">49</text><g id="n49-1"><use href="#Lr" x="84"/></g><g id="n49-2"><use href="#Dr" x="136"/></g><g id="n49-3"><use href="#Dr" x="188"/></g><g id="n49-4"><use href="#Dr" x="240"/></g><g id="n49-5"><use href="#Dr" x="292"/></g><g id="n49-6"><use href="#Dr" x="344"/></g><g id="n49-7"><use href="#Dr" x="396"/></g><g id="n49-8"><use href="#Dr" x="448"/></g><g id="n49-9"><use href="#Lr" x="500"/></g></g>
<g id="r50" transform="translate(0,2610)"><use href="#LB"/><text class="nl" x="20" y="4.5">50</text><text class="nr" x="564" y="4.5">50</text><g id="n50-1"><use href="#Ll" x="84"/></g><g id="n50-2"><use href="#Dl" x="136"/></g><g id="n50-3"><use href="#Dl" x="188"/></g><g id="n50-4"><use href="#Dl" x="240"/></g><g id="n50-5"><use href="#Dl" x="292"/></g><g id="n50-6"><use href="#Dl" x="344"/></g><g id="n50-7"><use href="#Dl" x="396"/></g><g id="n50-8"><use href="#Dl" x="448"/></g><g id="n50-9"><use href="#Ll" x="500"/></g></g>
<g id="r51" transform="translate(0,2662)"><use href="#LB"/><text class="nl" x="20" y="4.5">51</text><text class="nr" x="564" y="4.5">51</text><g id="n51-1"><use href="#Lr" x="84"/></g><g id="n51-2"><use href="#Lr" x="136"/></g><g id="n51-3"><use href="#Dr" x="188"/></g><g id="n51-4"><use href="#Dr" x="240"/></g><g id="n51-5"><use href="#Dr" x="292"/></g><g id="n51-6"><use href="#Dr" x="344"/></g><g id="n51-7"><use href="#Dr" x="396"/></g><g id="n51-8"><use href="#Lr" x="448"/></g><g id="n51-9"><use href="#Lr" x="500"/></g></g>
<g id="r52" transform="translate(0,2714)"><use href="#LB"/><text class="nl" x="20" y="4.5">52</text><text class="nr" x="564" y="4.5">52</text><g id="n52-1"><use href="#Ll" x="84"/></g><g id="n52-2"><use href="#Ll" x="136"/></g><g id="n52-3"><use href="#Dl" x="188"/></g><g id="n52-4"><use href="#Dl" x="240"/></g><g id="n52-5"><use href="#Dl" x="292"/></g><g id="n52-6"><use href="#Dl" x="344"/></g><g id="n52-7"><use href="#Dl" x="396"/></g><g id="n52-8"><use href="#Ll" x="448"/></g><g id="n52-9"><use href="#Ll" x="500"/></g></g>
<g id="r53" transform="translate(0,2766)"><use href="#LB"/><text class="nl" x="20" y="4.5">53</text><text class="nr" x="564" y="4.5">53</text><g id="n53-1"><use href="#Lr" x="84"/></g><g id="n53-2"><use href="#Lr" x="136"/></g><g id="n53-3"><use href="#Dr" x="188"/></g><g id="n53-4"><use href="#Dr" x="240"/></g><g id="n53-5"><use href="#Lr" x="292"/></g><g id="n53-6"><use href="#Dr" x="344"/></g><g id="n53-7"><use href="#Dr" x="396"/></g><g id="n53-8"><use href="#Lr" x="448"/></g><g id="n53-9"><use href="#Lr" x="500"/></g></g>
<g id="r54" transform="translate(0,2818)"><use href="#LB"/><text class="nl" x="20" y="4.5">54</text><text class="nr" x="564" y="4.5">54</text><g id="n54-1"><use href="#Ll" x="84"/></g><g id="n54-2"><use href="#Ll" x="136"/></g><g id="n54-3"><use href="#Ll" x="188"/></g><g id="n54-4"><use href="#Ll" x="240"/></g><g id="n54-5"><use href="#Ll" x="292"/></g><g id="n54-6"><use href="#Ll" x="344"/></g><g id="n54-7"><use href="#Ll" x="396"/></g><g id="n54-8"><use href="#Ll" x="448"/></g><g id="n54-9"><use href="#Ll" x="500"/></g></g>
<g id="r55" transform="translate(0,2870)"><use href="#LB"/><text class="nl" x="20" y="4.5">55</text><text class="nr" x="564" y="4.5">55</text><g id="n55-1"><use href="#Dr" x="84"/></g><g id="n55-2"><use href="#Dr" x="136"/></g><g id="n55-3"><use href="#Dr" x="188"/></g><g id="n55-4"><use href="#Dr" x="240"/></g><g id="n55-5"><use href="#Dr" x="292"/></g><g id="n55-6"><use href="#Dr" x="344"/></g><g id="n55-7"><use href="#Dr" x="396"/></g><g id="n55-8"><use href="#Dr" x="448"/></g><g id="n55-9"><use href="#Dr" x="500"/></g></g>
<g id="r56" transform="translate(0,2922)"><use href="#LB"/><text class="nl" x="20" y="4.5">56</text><text class="nr" x="564" y="4.5">56</text><g id="n56-1"><use href="#Dl" x="84"/></g><g id="n56-2"><use href="#Dl" x="136"/></g><g id="n56-3"><use href="#Dl" x="188"/></g><g id="n56-4"><use href="#Dl" x="240"/></g><g id="n56-5"><use href="#Ll" x="292"/></g><g id="n56-6"><use href="#Dl" x="344"/></g><g id="n56-7"><use href="#Dl" x="396"/></g><g id="n56-8"><use href="#Dl" x="448"/></g><g id="n56-9"><use href="#Dl" x="500"/></g></g>
<g id="r57" transform="translate(0,2974)"><use href="#LB"/><text class="nl" x="20" y="4.5">57</text><text class="nr" x="564" y="4.5">57</text><g id="n57-1"><use href="#Dr" x="84"/></g><g id="n57-2"><use href="#Dr" x="136"/></g><g id="n57-3"><use href="#Dr" x="188"/></g><g id="n57-4"><use href="#Lr" x="240"/></g><g id="n57-5"><use href="#Lr" x="292"/></g><g id="n57-6"><use href="#Lr" x="344"/></g><g id="n57-7"><use href="#Dr" x="396"/></g><g id="n57-8"><use href="#Dr" x="448"/></g><g id="n57-9"><use href="#Dr" x="500"/></g></g>
<g id="r58" transform="translate(0,3026)"><use href="#LB"/><text class="nl" x="20" y="4.5">58</text><text class="nr" x="564" y="4.5">58</text><g id="n58-1"><use href="#Dl" x="84"/></g><g id="n58-2"><use href="#Ll" x="136"/></g><g id="n58-3"><use href="#Ll" x="188"/></g><g id="n58-4"><use href="#Ll" x="240"/></g><g id="n58-5"><use href="#Ll" x="292"/></g><g id="n58-6"><use href="#Ll" x="344"/></g><g id="n58-7"><use href="#Ll" x="396"/></g><g id="n58-8"><use href="#Ll" x="448"/></g><g id="n58-9"><use href="#Dl" x="500"/></g></g>
<g id="r59" transform="translate(0,3078)"><use href="#LB"/><text class="nl" x="20" y="4.5">59</text><text class="nr" x="564" y="4.5">59</text><g id="n59-1"><use href="#Dr" x="84"/></g><g id="n59-2"><use href="#Lr" x="136"/></g><g id="n59-3"><use href="#Lr" x="188"/></g><g id="n59-4"><use href="#Lr" x="240"/></g><g id="n59-5"><use href="#Lr" x="292"/></g><g id="n59-6"><use href="#Lr" x="344"/></g><g id="n59-7"><use href="#Lr" x="396"/></g><g id="n59-8"><use href="#Lr" x="448"/></g><g id="n59-9"><use href="#Dr" x="500"/></g></g>
<g id="r60" transform="translate(0,3130)"><use href="#LB"/><text class="nl" x="20" y="4.5">60</text><text class="nr" x="564" y="4.5">60</text><g id="n60-1"><use href="#Dl" x="84"/></g><g id="n60-2"><use href="#Dl" x="136"/></g><g id="n60-3"><use href="#Ll" x="188"/></g><g id="n60-4"><use href="#Ll" x="240"/></g><g id="n60-5"><use href="#Ll" x="292"/></g><g id="n60-6"><use href="#Ll" x="344"/></g><g id="n60-7"><use href="#Ll" x="396"/></g><g id="n60-8"><use href="#Dl" x="448"/></g><g id="n60-9"><use href="#Dl" x="500"/></g></g>
<g id="r61" transform="translate(0,3182)"><use href="#LB"/><text class="nl" x="20" y="4.5">61</text><text class="nr" x="564" y="4.5">61</text><g id="n61-1"><use href="#Dr" x="84"/></g><g id="n61-2"><use href="#Dr" x="136"/></g><g id="n61-3"><use href="#Lr" x="188"/></g><g id="n61-4"><use href="#Lr" x="240"/></g><g id="n61-5"><use href="#Lr" x="292"/></g><g id="n61-6"><use href="#Lr" x="344"/></g><g id="n61-7"><use href="#Lr" x="396"/></g><g id="n61-8"><use href="#Dr" x="448"/></g><g id="n61-9"><use href="#Dr" x="500"/></g></g>
<g id="r62" transform="translate(0,3234)"><use href="#LR"/><text class="nl" x="20" y="4.5">62</text><text class="nr" x="564" y="4.5">62</text><text class="pt" x="31" y="4">A</text><g id="n62-1"><use href="#Dl" x="84"/></g><g id="n62-2"><use href="#Dl" x="136"/></g><g id="n62-3"><use href="#Ll" x="188"/></g><g id="n62-4"><use href="#Ll" x="240"/></g><g id="n62-5"><use href="#Dl" x="292"/></g><g id="n62-6"><use href="#Ll" x="344"/></g><g id="n62-7"><use href="#Ll" x="396"/></g><g id="n62-8"><use href="#Dl" x="448"/></g><g id="n62-9"><use href="#Dl" x="500"/></g></g>
<g id="r63" transform="translate(0,3286)"><use href="#LF"/><text class="nl" x="20" y="4.5">63</text><text class="nr" x="564" y="4.5">63</text><text class="pt" x="553" y="4" text-anchor="end">B</text><g id="n63-1"><use href="#Dr" x="84"/></g><g id="n63-2"><use href="#Dr" x="136"/></g><g id="n63-3"><use href="#Dr" x="188"/></g><g id="n63-4"><use href="#Dr" x="240"/></g><g id="n63-5"><use href="#Dr" x="292"/></g><g id="n63-6"><use href="#Dr" x="344"/></g><g id="n63-7"><use href="#Dr" x="396"/></g><g id="n63-8"><use href="#Dr" x="448"/></g><g id="n63-9"><use href="#Dr" x="500"/></g></g>
</g>
<text class="wm" x="292" y="1704">BRACELETBOOK.COM</text>
</svg>
